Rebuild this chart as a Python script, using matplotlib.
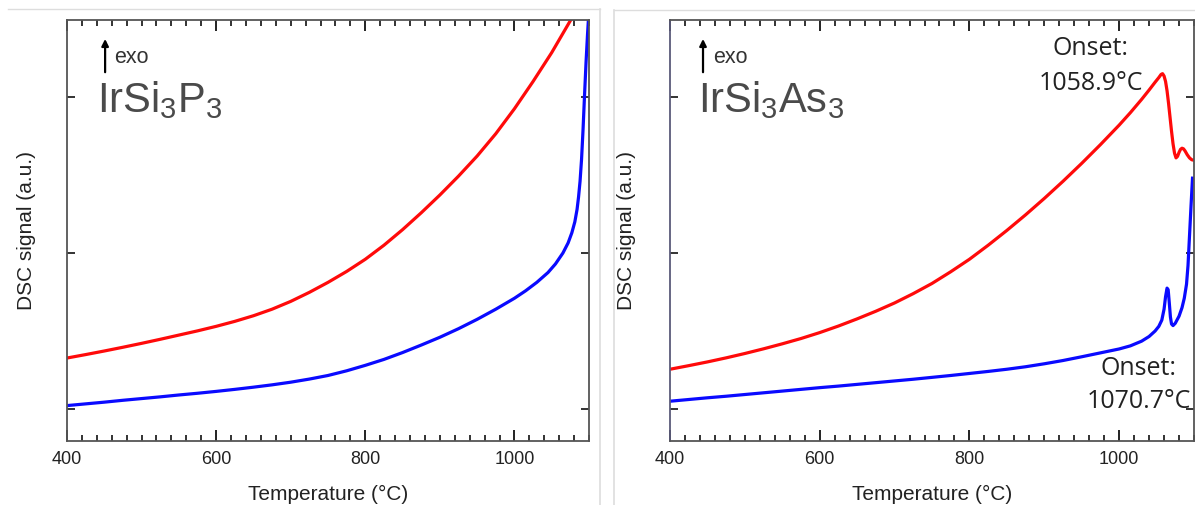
import matplotlib
matplotlib.use("Agg")
import matplotlib.pyplot as plt
from matplotlib.lines import Line2D
from matplotlib.ticker import MultipleLocator

plt.rcParams['font.family'] = ['Liberation Sans', 'DejaVu Sans']
plt.rcParams['mathtext.fontset'] = 'custom'
plt.rcParams['mathtext.rm'] = 'Liberation Sans'
plt.rcParams['mathtext.default'] = 'regular'

# IrSi3P3 panel (temperature in °C, signal in arbitrary units)
p_red_t = [400, 425, 450, 475, 500, 525, 550, 575, 600, 625, 650, 675, 700, 725,
           750, 775, 800, 825, 850, 875, 900, 925, 950, 975, 1000, 1025, 1050, 1075]
p_red_y = [0.327, 0.349, 0.372, 0.396, 0.421, 0.447, 0.474, 0.501, 0.530, 0.562,
           0.598, 0.640, 0.690, 0.748, 0.812, 0.882, 0.960, 1.050, 1.150, 1.258,
           1.372, 1.493, 1.622, 1.765, 1.925, 2.100, 2.285, 2.490]
p_blue_t = [400, 425, 450, 475, 500, 525, 550, 575, 600, 625, 650, 675, 700, 725,
            750, 775, 800, 825, 850, 875, 900, 925, 950, 975, 1000, 1015, 1030,
            1045, 1055, 1065, 1072, 1077, 1081, 1084, 1086, 1088, 1090, 1092, 1094,
            1096, 1098, 1099.5]
p_blue_y = [0.022, 0.033, 0.044, 0.056, 0.067, 0.078, 0.090, 0.101, 0.113, 0.126,
            0.140, 0.155, 0.172, 0.192, 0.215, 0.245, 0.280, 0.318, 0.362, 0.410,
            0.460, 0.515, 0.575, 0.640, 0.710, 0.758, 0.812, 0.875, 0.930, 1.000,
            1.065, 1.130, 1.200, 1.280, 1.360, 1.460, 1.600, 1.790, 2.010, 2.220,
            2.400, 2.520]

# IrSi3As3 panel
a_red_t = [400, 425, 450, 475, 500, 525, 550, 575, 600, 625, 650, 675, 700, 725,
           750, 775, 800, 825, 850, 875, 900, 925, 950, 975, 1000, 1015, 1030, 1040,
           1048, 1053, 1056, 1058, 1060, 1062, 1064, 1066, 1068, 1070, 1072, 1074,
           1076, 1078, 1080, 1082, 1084, 1086, 1088, 1091, 1094, 1097, 1100]
a_red_y = [0.255, 0.278, 0.302, 0.328, 0.356, 0.386, 0.418, 0.452, 0.490, 0.532,
           0.578, 0.627, 0.680, 0.740, 0.805, 0.880, 0.960, 1.050, 1.145, 1.245,
           1.350, 1.460, 1.575, 1.695, 1.820, 1.900, 1.985, 2.045, 2.095, 2.125,
           2.145, 2.150, 2.135, 2.100, 2.040, 1.960, 1.870, 1.780, 1.700, 1.640,
           1.610, 1.620, 1.645, 1.665, 1.672, 1.668, 1.655, 1.630, 1.610, 1.598,
           1.595]
a_blue_t = [400, 425, 450, 475, 500, 525, 550, 575, 600, 625, 650, 675, 700, 725,
            750, 775, 800, 825, 850, 875, 900, 925, 950, 975, 1000, 1015, 1030, 1040,
            1048, 1053, 1057, 1060, 1062, 1064, 1065.5, 1067, 1068.5, 1070, 1072,
            1075, 1080, 1084, 1087, 1090, 1092, 1094, 1096, 1098]
a_blue_y = [0.050, 0.061, 0.072, 0.082, 0.093, 0.104, 0.115, 0.126, 0.137, 0.147,
            0.158, 0.169, 0.180, 0.191, 0.203, 0.215, 0.228, 0.241, 0.255, 0.271,
            0.290, 0.311, 0.335, 0.360, 0.385, 0.405, 0.435, 0.465, 0.500, 0.530,
            0.570, 0.640, 0.720, 0.775, 0.765, 0.680, 0.590, 0.545, 0.535, 0.550,
            0.595, 0.650, 0.710, 0.800, 0.920, 1.110, 1.300, 1.480]

RED = '#ff0a0a'
BLUE = '#0a0aff'
GREY = '#555555'

fig = plt.figure(figsize=(11.95, 5.05), dpi=100)

# light panel frames from the source layout
fig.add_artist(Line2D([8/1195, 600/1195], [1-9/505, 1-9/505], color='#dddddd', lw=1))
fig.add_artist(Line2D([600/1195, 600/1195], [0, 1-9/505], color='#dddddd', lw=1.2))
fig.add_artist(Line2D([614/1195, 614/1195], [0, 1-10/505], color='#dddddd', lw=1.2))
fig.add_artist(Line2D([614/1195, 1], [1-10/505, 1-10/505], color='#dddddd', lw=1))

ax1 = fig.add_axes([67/1195, 64/505, 522/1195, 421/505])
ax2 = fig.add_axes([670/1195, 64/505, 524/1195, 421/505])

ax1.plot(p_red_t, p_red_y, color=RED, lw=2.3)
ax1.plot(p_blue_t, p_blue_y, color=BLUE, lw=2.3)
ax2.plot(a_red_t, a_red_y, color=RED, lw=2.3)
ax2.plot(a_blue_t, a_blue_y, color=BLUE, lw=2.3)

for ax in (ax1, ax2):
    ax.set_xlim(400, 1100)
    ax.set_ylim(-0.205, 2.494)
    ax.xaxis.set_major_locator(MultipleLocator(200))
    ax.xaxis.set_minor_locator(MultipleLocator(20))
    ax.set_yticks([0, 1, 2])
    ax.tick_params(which='both', direction='in', top=True, right=True,
                   color='#111111', labelleft=False, labelsize=13, pad=7,
                   labelcolor='#222222')
    ax.tick_params(axis='x', which='major', length=8, width=1.3)
    ax.tick_params(axis='x', which='minor', length=4, width=1.2)
    ax.tick_params(axis='y', which='major', length=6, width=1.2)
    for s in ax.spines.values():
        s.set_color(GREY)
        s.set_linewidth(1.3)
    ax.set_xlabel('Temperature (°C)', fontsize=15, color='#222222')
    ax.set_ylabel('DSC signal (a.u.)', fontsize=15, color='#222222')
    ax.xaxis.set_label_coords(0.5, -0.105)

ax1.yaxis.set_label_coords(-0.059, 0.5)
ax2.yaxis.set_label_coords(-0.065, 0.5)
ax2.spines['left'].set_color('#5b5b7a')

# exo arrows and compound names
for ax, xa, xt in ((ax1, 0.073, 0.090), (ax2, 0.063, 0.082)):
    ax.annotate('', xy=(xa, 0.955), xytext=(xa, 0.876), xycoords='axes fraction',
                arrowprops=dict(arrowstyle='-|>', color='black', lw=1.6,
                                mutation_scale=10, shrinkA=0, shrinkB=0))
    ax.text(xt, 0.912, 'exo', transform=ax.transAxes, fontsize=15.5,
            color='#333333', va='center', ha='left')

ax1.text(0.057, 0.781, 'IrSi$_3$P$_3$', transform=ax1.transAxes, fontsize=30,
         color='#4a4a4a', va='baseline', ha='left')
ax2.text(0.054, 0.781, 'IrSi$_3$As$_3$', transform=ax2.transAxes, fontsize=30,
         color='#4a4a4a', va='baseline', ha='left')

onset = dict(fontsize=18, color='#222222', family=['Open Sans', 'DejaVu Sans'],
             ha='center', va='center', transform=ax2.transAxes, clip_on=False)
ax2.text(0.803, 0.933, 'Onset:', **onset)
ax2.text(0.803, 0.850, '1058.9°C', **onset)
ax2.text(0.895, 0.173, 'Onset:', **onset)
ax2.text(0.895, 0.093, '1070.7°C', **onset)

fig.savefig('out.png', dpi=100)
